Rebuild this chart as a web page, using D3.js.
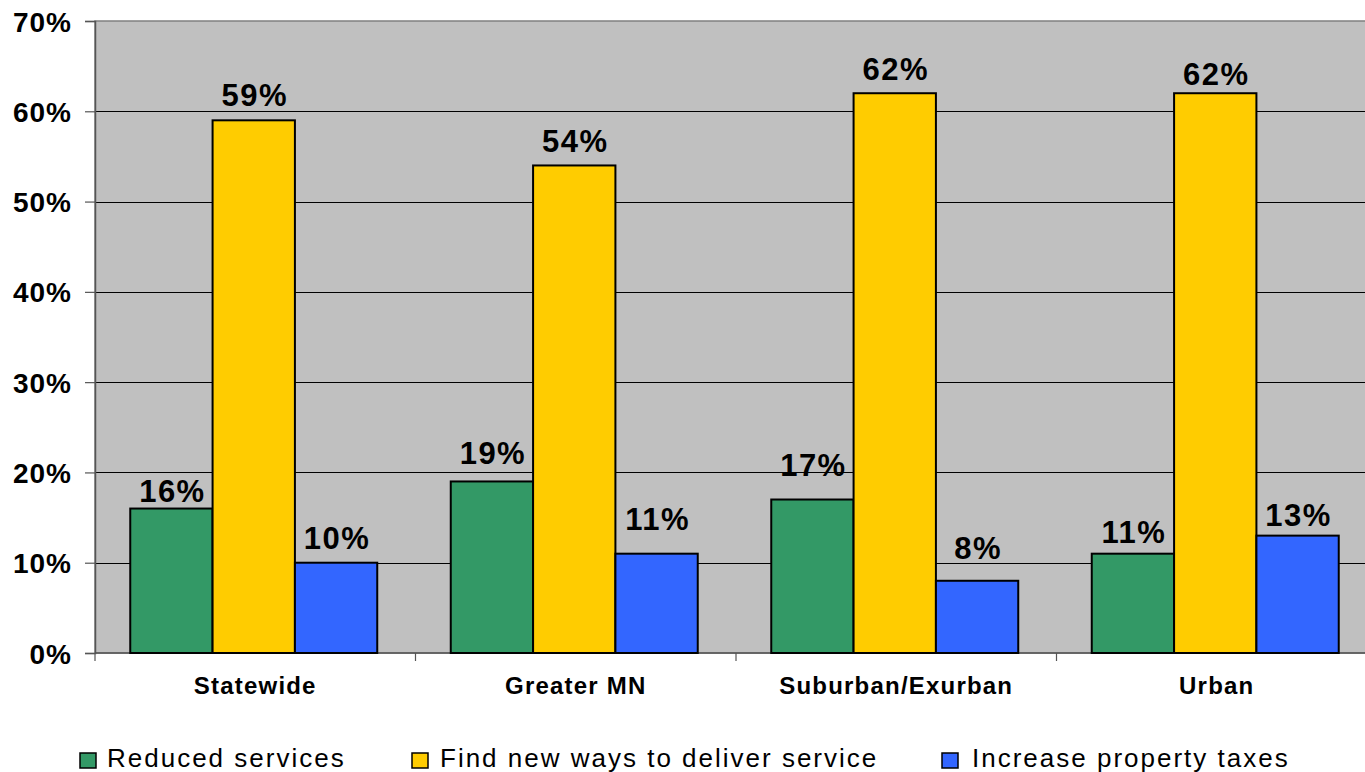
<!DOCTYPE html>
<html>
<head>
<meta charset="utf-8">
<script src="https://cdn.jsdelivr.net/npm/d3@7"></script>
<style>
  html, body { margin: 0; padding: 0; background: #ffffff; }
  svg { display: block; }
  text { font-family: Arial, "Liberation Sans", sans-serif; fill: #000; }
</style>
</head>
<body>
<svg id="chart" width="1365" height="772"></svg>
<script>
// ---- data ----
const categories = ["Statewide", "Greater MN", "Suburban/Exurban", "Urban"];
const seriesNames = ["Reduced services", "Find new ways to deliver service", "Increase property taxes"];
const reducedServices = [16, 19, 17, 11];
const newWays = [59, 54, 62, 62];
const propertyTaxes = [10, 11, 8, 13];
const yTicks = [0, 10, 20, 30, 40, 50, 60, 70];

// ---- layout & style ----
const colors = ["#339966", "#FFCC00", "#3366FF"];
const plot = { left: 95, right: 1377, top: 21, bottom: 653 };
// gap (px) between each value label's baseline and its bar top, per series
const labelGap = [[7, 17, 24, 11], [14, 13, 13, 8], [14, 24, 22, 10]];
const legendX = [80, 412, 942];

const seriesValues = [reducedServices, newWays, propertyTaxes];
const svg = d3.select("#chart");

const x0 = d3.scaleBand().domain(categories).range([plot.left, plot.right]).paddingInner(0).paddingOuter(0);
const bw = x0.bandwidth();
const groupPad = bw * 0.11;
const x1 = d3.scaleBand().domain(d3.range(seriesNames.length)).range([groupPad, bw - groupPad - 3]).padding(0);
const y = d3.scaleLinear().domain([0, 70]).range([plot.bottom, plot.top]);

// plot background
svg.append("rect")
  .attr("x", plot.left).attr("y", plot.top)
  .attr("width", plot.right - plot.left).attr("height", plot.bottom - plot.top)
  .attr("fill", "#C0C0C0").attr("stroke", "#808080").attr("stroke-width", 1.5);

// horizontal gridlines
svg.append("g").selectAll("line")
  .data(yTicks.filter(d => d > 0 && d < 70))
  .join("line")
  .attr("x1", plot.left).attr("x2", plot.right)
  .attr("y1", d => Math.round(y(d)) + 0.5).attr("y2", d => Math.round(y(d)) + 0.5)
  .attr("stroke", "#000").attr("stroke-width", 1);

// y axis
const yAxis = d3.axisLeft(y).tickValues(yTicks).tickSize(10).tickPadding(13).tickFormat(d => d + "%");
const gy = svg.append("g").attr("transform", `translate(${plot.left},0)`).call(yAxis);
gy.select(".domain").attr("stroke", "#555").attr("stroke-width", 1.5);
gy.selectAll(".tick line").attr("stroke", "#555").attr("stroke-width", 1.2);
gy.selectAll(".tick text")
  .style("font-family", "Arial, 'Liberation Sans', sans-serif")
  .style("font-size", "28px").style("font-weight", "bold")
  .style("letter-spacing", "1px")
  .attr("fill", "#000").attr("dy", "0.36em");

// x axis baseline and category ticks
svg.append("line")
  .attr("x1", plot.left).attr("x2", plot.right)
  .attr("y1", plot.bottom).attr("y2", plot.bottom)
  .attr("stroke", "#555").attr("stroke-width", 1.5);
svg.append("g").selectAll("line")
  .data(categories.concat(["end"]))
  .join("line")
  .attr("x1", (d, i) => plot.left + i * bw).attr("x2", (d, i) => plot.left + i * bw)
  .attr("y1", plot.bottom).attr("y2", plot.bottom + 8)
  .attr("stroke", "#555").attr("stroke-width", 1.2);

// category labels
svg.append("g").selectAll("text")
  .data(categories)
  .join("text")
  .attr("x", d => x0(d) + bw / 2)
  .attr("y", 694)
  .attr("text-anchor", "middle")
  .style("font-size", "24px").style("font-weight", "bold")
  .style("letter-spacing", "1.2px")
  .text(d => d);

// bars
const groups = svg.append("g").selectAll("g")
  .data(categories)
  .join("g")
  .attr("transform", d => `translate(${x0(d)},0)`);

groups.selectAll("rect")
  .data((c, ci) => seriesValues.map((vals, si) => ({ si, ci, v: vals[ci] })))
  .join("rect")
  .attr("x", d => x1(d.si))
  .attr("width", x1.bandwidth())
  .attr("y", d => y(d.v))
  .attr("height", d => y(0) - y(d.v))
  .attr("fill", d => colors[d.si])
  .attr("stroke", "#000").attr("stroke-width", 2);

// value labels
groups.selectAll("text.value")
  .data((c, ci) => seriesValues.map((vals, si) => ({ si, ci, v: vals[ci] })))
  .join("text")
  .attr("class", "value")
  .attr("x", d => x1(d.si) + x1.bandwidth() / 2 + 1)
  .attr("y", d => y(d.v) - labelGap[d.si][d.ci])
  .attr("text-anchor", "middle")
  .style("font-size", "31px").style("font-weight", "bold")
  .style("letter-spacing", "1.5px")
  .text(d => d.v + "%");

// legend
const legend = svg.append("g").selectAll("g")
  .data(seriesNames)
  .join("g")
  .attr("transform", (d, i) => `translate(${legendX[i]},0)`);
legend.append("rect")
  .attr("x", 0).attr("y", 753).attr("width", 16).attr("height", 15)
  .attr("fill", (d, i) => colors[i])
  .attr("stroke", "#000").attr("stroke-width", 1.5);
legend.append("text")
  .attr("x", (d, i) => [27, 28, 30][i])
  .attr("y", 767)
  .style("font-size", "26px")
  .style("letter-spacing", "2px")
  .text(d => d);
</script>
</body>
</html>
